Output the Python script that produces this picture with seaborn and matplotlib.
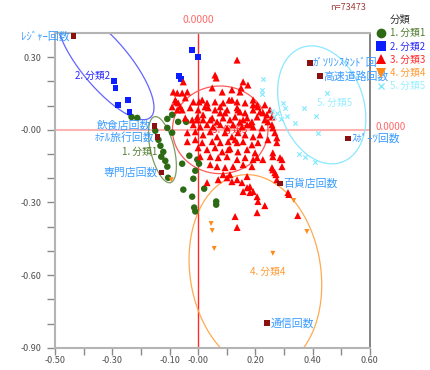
import numpy as np
import pandas as pd
import matplotlib.pyplot as plt
from matplotlib.lines import Line2D
import seaborn as sns

sns.set_style('ticks')
plt.rcParams['font.family'] = ['Noto Sans CJK JP', 'DejaVu Sans']

# class names and colours
groups = ['1. 分類1', '2. 分類2', '3. 分類3', '4. 分類4', '5. 分類5']
group_colors = ['#2d6a14', '#0a1eff', '#ff0000', '#ff8a1a', '#7fe9ff']
text_colors = ['#4f7d2c', '#2a2aff', '#ff2a2a', '#ff9a33', '#9aeeff']
ellipse_colors = ['#7d9c62', '#6464ff', '#ff5a5a', '#ffaa50', '#8ae8ff']
group_markers = ['o', 's', '^', 'v', 'x']

# row points (per class)
pts_1 = [(-0.233, 0.053), (-0.213, 0.049), (-0.108, 0.045), (-0.091, 0.062), (-0.070, 0.033),
         (-0.042, 0.033), (-0.150, -0.004), (-0.108, 0.008), (-0.091, -0.012), (-0.139, -0.041),
         (-0.132, -0.066), (-0.122, -0.091), (-0.129, -0.111), (-0.115, -0.128), (-0.108, -0.152),
         (-0.105, -0.198), (-0.031, -0.107), (-0.056, -0.140), (-0.003, -0.123), (0.003, -0.140),
         (-0.010, -0.169), (-0.017, -0.202), (-0.052, -0.247), (0.021, -0.243), (-0.021, -0.276),
         (0.063, -0.296), (0.063, -0.309), (-0.014, -0.321), (-0.010, -0.337)]
pts_2 = [(-0.021, 0.329), (0.000, 0.300), (-0.066, 0.222), (-0.059, 0.210), (-0.293, 0.202),
         (-0.289, 0.173), (-0.244, 0.123), (-0.279, 0.103), (-0.240, 0.074)]
pts_3 = [(0.136, 0.288), (0.059, 0.226), (0.063, 0.214), (0.157, 0.198), (0.174, 0.185),
         (0.150, 0.173), (-0.052, 0.198), (-0.087, 0.156), (-0.073, 0.152), (-0.056, 0.152),
         (-0.038, 0.156), (0.049, 0.173), (0.084, 0.156), (0.118, 0.165), (0.146, 0.156),
         (-0.080, 0.123), (-0.070, 0.111), (-0.045, 0.132), (-0.017, 0.115), (0.014, 0.123),
         (0.031, 0.111), (0.059, 0.115), (0.087, 0.111), (0.108, 0.123), (0.136, 0.115),
         (0.164, 0.111), (0.192, 0.123), (0.206, 0.103), (-0.091, 0.095), (-0.073, 0.082),
         (-0.056, 0.082), (-0.028, 0.091), (0.000, 0.082), (0.035, 0.091), (0.059, 0.082),
         (0.077, 0.095), (0.101, 0.082), (0.136, 0.091), (0.146, 0.074), (0.164, 0.070),
         (0.192, 0.082), (0.226, 0.070), (-0.045, 0.049), (-0.021, 0.041), (-0.003, 0.053),
         (0.017, 0.041), (0.049, 0.049), (0.066, 0.033), (0.087, 0.049), (0.111, 0.041),
         (0.129, 0.053), (0.146, 0.033), (0.171, 0.049), (0.188, 0.033), (0.206, 0.053),
         (-0.017, 0.021), (0.007, 0.012), (0.031, 0.021), (0.052, 0.012), (0.077, 0.021),
         (0.101, 0.008), (0.122, 0.021), (0.153, 0.012), (0.171, 0.021), (0.192, 0.012),
         (0.258, 0.021), (0.261, 0.008), (-0.038, -0.012), (-0.010, -0.008), (0.017, -0.021),
         (0.042, -0.008), (0.066, -0.029), (0.094, -0.012), (0.118, -0.029), (0.139, -0.012),
         (0.164, -0.021), (0.192, -0.029), (0.216, -0.021), (0.268, -0.012), (0.275, -0.033),
         (-0.038, -0.049), (-0.010, -0.041), (0.014, -0.053), (0.049, -0.049), (0.077, -0.053),
         (0.105, -0.049), (0.136, -0.053), (0.157, -0.049), (0.188, -0.062), (0.209, -0.053),
         (0.275, -0.053), (0.000, -0.074), (0.031, -0.082), (0.059, -0.074), (0.084, -0.091),
         (0.111, -0.078), (0.139, -0.091), (0.171, -0.082), (0.199, -0.095), (0.007, -0.111),
         (0.042, -0.111), (0.070, -0.115), (0.101, -0.111), (0.136, -0.123), (0.164, -0.115),
         (0.192, -0.123), (0.261, -0.111), (0.293, -0.123), (0.066, -0.152), (0.094, -0.156),
         (0.122, -0.152), (0.157, -0.144), (0.188, -0.152), (0.261, -0.165), (0.268, -0.177),
         (0.087, -0.185), (0.111, -0.185), (0.171, -0.193), (0.275, -0.206), (0.031, -0.218),
         (0.136, -0.206), (0.153, -0.218), (0.171, -0.239), (0.181, -0.235), (0.192, -0.255),
         (0.070, -0.206), (0.101, -0.198), (0.118, -0.214), (0.157, -0.255), (0.181, -0.259),
         (0.206, -0.276), (0.209, -0.296), (0.233, -0.313), (0.206, -0.342), (0.129, -0.358),
         (0.136, -0.403), (0.348, -0.354), (0.314, -0.259), (0.272, -0.185), (0.118, 0.123),
         (0.192, 0.103), (0.209, 0.095), (0.233, 0.103), (0.216, 0.074), (0.240, 0.062),
         (0.139, 0.082), (0.157, 0.041), (0.181, 0.021), (0.244, 0.033), (0.251, 0.082),
         (0.258, 0.053), (0.286, -0.115), (0.226, -0.123), (0.206, -0.115), (0.258, -0.156),
         (0.261, -0.095), (0.293, -0.152), (0.317, -0.267), (-0.077, 0.115), (-0.063, 0.095),
         (0.003, 0.115), (0.024, 0.095), (0.077, 0.070), (-0.003, 0.041), (0.017, 0.062),
         (0.042, 0.041), (0.094, 0.070), (0.129, -0.041), (0.105, -0.082), (0.223, 0.008),
         (0.233, 0.041), (0.244, -0.041), (0.042, -0.144)]
pts_4 = [(-0.094, -0.206), (0.045, -0.387), (0.049, -0.416), (0.056, -0.490), (0.261, -0.510),
         (0.334, -0.292), (0.380, -0.420)]
pts_5 = [(0.226, 0.210), (0.223, 0.165), (0.223, 0.148), (0.296, 0.111), (0.303, 0.091),
         (0.265, 0.053), (0.289, 0.045), (0.310, 0.058), (0.338, 0.029), (0.369, 0.091),
         (0.411, 0.058), (0.449, 0.152), (0.418, -0.012), (0.352, -0.099), (0.373, -0.111),
         (0.408, -0.132), (0.258, 0.078), (0.275, 0.070)]
group_points = [pts_1, pts_2, pts_3, pts_4, pts_5]
group_sizes = [22, 18, 26, 13, 10]

# column points
col_names = ['ﾚｼﾞｬｰ回数', '飲食店回数', 'ﾎﾃﾙ旅行回数', '専門店回数', 'ｶﾞｿﾘﾝｽﾀﾝﾄﾞ回',
             '高速道路回数', 'ｽﾎﾟｰﾂ回数', '百貨店回数', '通信回数']
col_x = [-0.436, -0.153, -0.143, -0.129, 0.390, 0.425, 0.523, 0.286, 0.240]
col_y = [0.387, 0.016, -0.029, -0.177, 0.276, 0.222, -0.036, -0.222, -0.798]
col_side = ['left', 'left', 'left', 'left', 'right', 'right', 'right', 'right', 'right']

# ellipses: centre and two conjugate half-axes
ell_center = [(-0.125, -0.082), (-0.324, 0.272), (0.077, 0.0), (0.200, -0.588), (0.432, 0.103)]
ell_u = [(0.028, -0.136), (0.157, -0.221), (0.167, 0.0), (-0.030, 0.403), (0.069, -0.237)]
ell_v = [(0.040, 0.012), (-0.064, -0.064), (0.0, 0.181), (0.230, 0.0), (-0.138, -0.056)]

# where the class name sits inside each ellipse
glabel_x = [-0.265, -0.432, 0.049, 0.181, 0.415]
glabel_y = [-0.091, 0.222, 0.0, -0.588, 0.111]

fig, ax = plt.subplots(figsize=(4.31, 3.70), dpi=100)
fig.subplots_adjust(left=0.128, right=0.858, bottom=0.06, top=0.911)

# reference lines
ax.axhline(0, color='#ffb4b4', lw=1.5, zorder=1)
ax.axvline(0, color='#ff2a2a', lw=1.0, zorder=1)

# ellipses
t = np.linspace(0, 2 * np.pi, 240)
for c, u, v, col in zip(ell_center, ell_u, ell_v, ellipse_colors):
    ex = c[0] + u[0] * np.cos(t) + v[0] * np.sin(t)
    ey = c[1] + u[1] * np.cos(t) + v[1] * np.sin(t)
    ax.plot(ex, ey, color=col, lw=0.9, zorder=2)

# class names
for i, g in enumerate(groups):
    ax.text(glabel_x[i], glabel_y[i], g, color=text_colors[i], fontsize=7,
            ha='left', va='center', zorder=2)

# row points
frames = []
for g, pts in zip(groups, group_points):
    frames.append(pd.DataFrame({'x': [p[0] for p in pts], 'y': [p[1] for p in pts], 'group': g}))
df = pd.concat(frames, ignore_index=True)

for i, g in enumerate(groups):
    sub = df[df['group'] == g]
    if group_markers[i] == 'x':
        sns.scatterplot(data=sub, x='x', y='y', marker='x', color=group_colors[i],
                        s=group_sizes[i], linewidth=0.8, ax=ax, zorder=3)
    else:
        sns.scatterplot(data=sub, x='x', y='y', marker=group_markers[i], color=group_colors[i],
                        s=group_sizes[i], edgecolor='none', ax=ax, zorder=3)

# column points
cols = pd.DataFrame({'x': col_x, 'y': col_y, 'name': col_names})
sns.scatterplot(data=cols, x='x', y='y', marker='s', color='#8b1010', s=16,
                edgecolor='none', ax=ax, zorder=4)
for xx, yy, name, side in zip(col_x, col_y, col_names, col_side):
    if side == 'left':
        ax.text(xx - 0.012, yy, name, color='#3a9cff', fontsize=7.8, ha='right', va='center',
                zorder=5, clip_on=False)
    else:
        ax.text(xx + 0.012, yy, name, color='#3a9cff', fontsize=7.8, ha='left', va='center',
                zorder=5, clip_on=False)

ax.set_xlim(-0.5, 0.6)
ax.set_ylim(-0.9, 0.4)
ax.set_xlabel('')
ax.set_ylabel('')

xticks = [-0.5, -0.4, -0.3, -0.2, -0.1, 0.0, 0.1, 0.2, 0.3, 0.4, 0.5, 0.6]
xlabels = ['-0.50', '', '-0.30', '', '-0.10', '-0.00', '', '0.20', '', '0.40', '', '0.60']
yticks = [-0.9, -0.8, -0.7, -0.6, -0.5, -0.4, -0.3, -0.2, -0.1, 0.0, 0.1, 0.2, 0.3]
ylabels = ['-0.90', '', '', '-0.60', '', '', '-0.30', '', '', '-0.00', '', '', '0.30']
ax.set_xticks(xticks)
ax.set_xticklabels(xlabels)
ax.set_yticks(yticks)
ax.set_yticklabels(ylabels)
ax.tick_params(axis='both', direction='out', color='#8a8a8a', labelcolor='#505050',
               labelsize=6.5, width=1)
ax.tick_params(axis='x', length=5, pad=1)
ax.tick_params(axis='y', length=6, pad=4)

for side in ['left', 'bottom', 'top']:
    ax.spines[side].set_visible(True)
    ax.spines[side].set_color('#b4b4b4')
    ax.spines[side].set_linewidth(1.5)
ax.spines['right'].set_visible(True)
ax.spines['right'].set_color('#6e6e6e')
ax.spines['right'].set_linewidth(1.2)

# zero labels
ax.text(0, 1.04, '0.0000', transform=ax.get_xaxis_transform(), color='#ff6a6a',
        fontsize=7.5, ha='center', va='center', clip_on=False)
ax.text(1.019, 0.012, '0.0000', transform=ax.get_yaxis_transform(), color='#ff6a6a',
        fontsize=7, ha='left', va='center', clip_on=False)
fig.text(348 / 431, 1 - 8 / 370, 'n=73473', color='#a03c3c', fontsize=6.5,
         ha='center', va='center')

# legend
handles = []
for i, g in enumerate(groups):
    if group_markers[i] == 'x':
        handles.append(Line2D([], [], ls='none', marker='x', color=group_colors[i],
                              markersize=5, markeredgewidth=1))
    else:
        handles.append(Line2D([], [], ls='none', marker=group_markers[i], color=group_colors[i],
                              markersize=7, markeredgewidth=0))
leg = fig.legend(handles, groups, loc='upper left', bbox_to_anchor=(376 / 431, 1 - 15 / 370),
                 frameon=False, title='分類', fontsize=7, title_fontsize=7.5,
                 handlelength=1.0, handletextpad=0.4, labelspacing=0.33,
                 borderpad=0, borderaxespad=0)
for txt, col in zip(leg.get_texts(), text_colors):
    txt.set_color(col)
leg.get_title().set_color('#333333')

plt.savefig('out.png', dpi=100)
